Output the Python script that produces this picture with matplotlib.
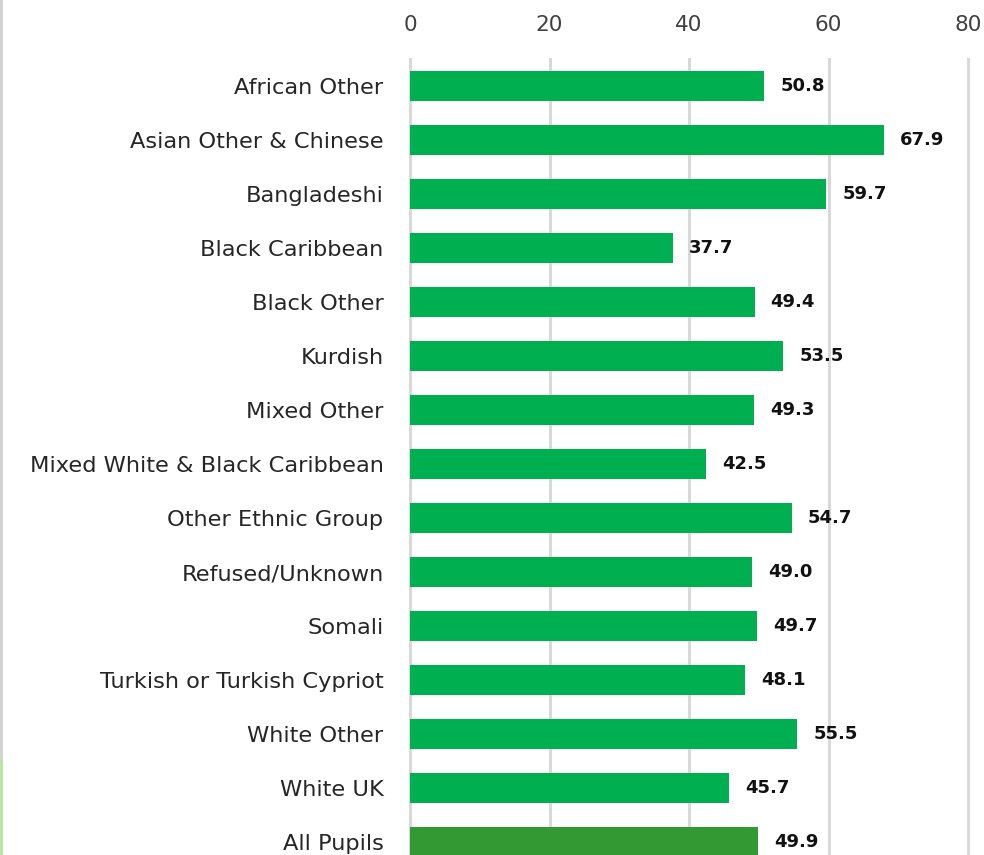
import matplotlib.pyplot as plt
from matplotlib.lines import Line2D

categories = ['African Other', 'Asian Other & Chinese', 'Bangladeshi', 'Black Caribbean',
              'Black Other', 'Kurdish', 'Mixed Other', 'Mixed White & Black Caribbean',
              'Other Ethnic Group', 'Refused/Unknown', 'Somali', 'Turkish or Turkish Cypriot',
              'White Other', 'White UK', 'All Pupils']
values = [50.8, 67.9, 59.7, 37.7, 49.4, 53.5, 49.3, 42.5, 54.7, 49.0, 49.7, 48.1, 55.5, 45.7, 49.9]
x_ticks = [0, 20, 40, 60, 80]

plt.rcParams['font.family'] = ['DejaVu Sans']

fig = plt.figure(figsize=(9.84, 8.55), dpi=100)
ax = fig.add_axes([410 / 984, 1 - 869 / 855, 558 / 984, 810 / 855])

colors = ['#00B050'] * (len(categories) - 1) + ['#339933']
ypos = list(range(len(categories)))
ax.barh(ypos, values, height=0.55, color=colors, zorder=3)

for y, v in zip(ypos, values):
    ax.text(v + 2.3, y, f'{v:.1f}', va='center', ha='left', fontsize=13,
            fontweight='bold', color='#111111')

ax.set_xlim(0, 80)
ax.set_ylim(len(categories) - 0.5, -0.5)
ax.set_yticks(ypos)
ax.set_yticklabels(categories, fontsize=16.2, color='#262626')
ax.set_xticks(x_ticks)
ax.set_xticklabels([str(t) for t in x_ticks], fontsize=15.5, color='#404040')
ax.xaxis.tick_top()
ax.tick_params(axis='both', length=0)
ax.tick_params(axis='x', pad=17)
ax.tick_params(axis='y', pad=19)
ax.grid(axis='x', color='#D9D9D9', linewidth=2.2, zorder=0)
for gl in ax.get_xgridlines():
    gl.set_clip_on(False)
for s in ax.spines.values():
    s.set_visible(False)

# left edge marks of the cropped frame
fig.add_artist(Line2D([0.001, 0.001], [1, 1 - 760 / 855], color='#D0D0D0', linewidth=2))
fig.add_artist(Line2D([0.001, 0.001], [1 - 760 / 855, 0], color='#B5E6A0', linewidth=2))

fig.savefig('out.png', dpi=100)
